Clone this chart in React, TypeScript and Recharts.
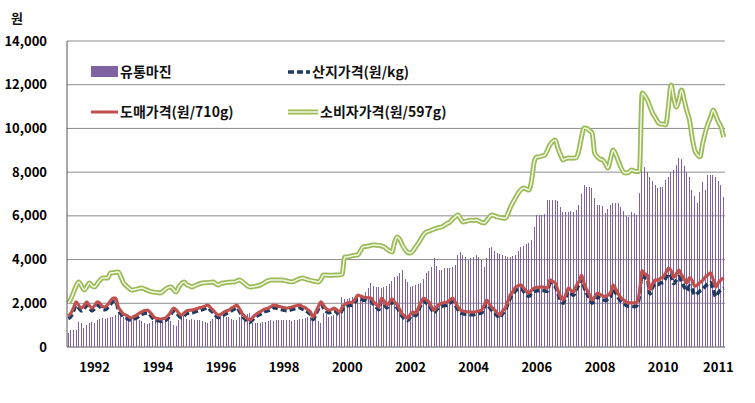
import React from "react";
import { ComposedChart, Bar, Line, XAxis, YAxis, CartesianGrid } from "recharts";

// monthly, 1991-03 .. 2011-12
const START_YEAR = 1991;
const START_MONTH = 3;

// 유통마진
const margin = [
  640, 760, 780, 800, 1140, 1100, 870, 1000, 1100, 1140,
  1100, 1235, 1280, 1330, 1300, 1340, 1370, 1370, 1450, 1600, 1550, 1370,
  1470, 1440, 1390, 1340, 1300, 1250, 1180, 1100, 1050, 1080, 1190, 1235,
  1290, 1290, 1300, 1350, 1300, 1200, 1000, 960, 1250, 1460, 1400, 1300,
  1240, 1300, 1250, 1230, 1235, 1200, 1150, 1100, 1200, 1280, 1330, 1330,
  1400, 1400, 1380, 1370, 1300, 1240, 1220, 1350, 1450, 1500, 1500, 1550,
  1100, 1080, 1100, 1120, 1140, 1160, 1200, 1235, 1200, 1220, 1235, 1250,
  1235, 1240, 1220, 1200, 1235, 1250, 1280, 1300, 1320, 1350, 1370, 1460,
  1460, 1200, 1100, 1550, 1500, 1370, 1400, 1450, 1500, 1600, 2290, 2200,
  2200, 2250, 2300, 2250, 2300, 2350, 2400, 2500, 2700, 2930, 2800, 2750,
  2750, 2700, 2750, 2800, 2900, 3000, 3200, 3250, 3400, 3520, 3100, 2970,
  2750, 2800, 2850, 2900, 2930, 3100, 3390, 3500, 3660, 4070, 3700, 3520,
  3520, 3600, 3610, 3610, 3680, 3750, 4210, 4350, 4210, 4100, 3980, 4050,
  4100, 4210, 4120, 3980, 3660, 4070, 4530, 4580, 4400, 4300, 4250, 4200,
  4150, 4100, 4120, 4150, 4210, 4400, 4580, 4600, 4700, 4760, 4900, 5500,
  6040, 6040, 6050, 6100, 6730, 6730, 6730, 6730, 6700, 6400, 6180, 6180,
  6180, 6200, 6180, 6270, 6500, 7000, 7410, 7320, 7300, 7270, 6800, 6500,
  6500, 6450, 6130, 6300, 6500, 6590, 6600, 6590, 6400, 6200, 6000, 5950,
  6180, 6150, 6040, 7050, 8240, 8240, 8010, 7800, 7600, 7410, 7270, 7300,
  7300, 7640, 7800, 8010, 8100, 8330, 8650, 8600, 8300, 8000, 7780, 7200,
  6900, 6590, 7090, 7550, 7180, 7870, 7870, 7870, 7800, 7600, 7410, 6860,
];

// 산지가격(원/kg)
const farm = [
  1300, 1400, 1650, 1900, 1780, 1650, 1750, 1900, 1780, 1650,
  1750, 1900, 1850, 1720, 1700, 1800, 1950, 2080, 2100, 1700, 1520, 1380,
  1330, 1260, 1220, 1280, 1340, 1420, 1500, 1540, 1560, 1480, 1330, 1230,
  1200, 1180, 1200, 1220, 1330, 1500, 1650, 1580, 1430, 1340, 1420, 1530,
  1560, 1570, 1600, 1640, 1680, 1710, 1760, 1800, 1680, 1570, 1430, 1340,
  1380, 1460, 1530, 1570, 1660, 1730, 1800, 1630, 1430, 1290, 1190, 1130,
  1240, 1350, 1440, 1500, 1580, 1630, 1660, 1730, 1800, 1780, 1740, 1710,
  1680, 1660, 1680, 1710, 1750, 1780, 1800, 1730, 1680, 1590, 1480, 1260,
  1480, 1730, 1940, 1780, 1630, 1570, 1600, 1660, 1580, 1480, 1680, 1830,
  1880, 1900, 1930, 2060, 2230, 2190, 2150, 2130, 2110, 2100, 1930, 1820,
  1700, 2100, 1960, 1790, 1910, 2060, 1910, 1790, 1570, 1380, 1270, 1210,
  1380, 1470, 1430, 1670, 1910, 2090, 2010, 1920, 1720, 1560, 1720, 1820,
  1870, 1890, 1920, 2010, 2090, 1910, 1720, 1560, 1520, 1500, 1490, 1470,
  1480, 1500, 1530, 1560, 1770, 2000, 1810, 1670, 1560, 1420, 1330, 1520,
  1650, 1960, 2250, 2400, 2590, 2640, 2680, 2540, 2400, 2320, 2450, 2550,
  2570, 2590, 2600, 2570, 2550, 2900, 2830, 2760, 2440, 2150, 2000, 2250,
  2540, 2440, 2360, 2640, 2830, 3100, 2720, 2450, 2240, 2000, 2150, 2300,
  2230, 2180, 2120, 2200, 2290, 2650, 2460, 2240, 2080, 1980, 1900, 1860,
  1860, 1850, 1890, 2320, 3300, 3170, 3100, 2430, 2720, 2880, 2850, 2930,
  2950, 3150, 3350, 3230, 2900, 3060, 3220, 2980, 2750, 2560, 2800, 2650,
  2380, 2450, 2560, 2640, 2780, 2880, 2950, 2650, 2300, 2500, 2620, 2700,
];

// 도매가격(원/710g)
const wholesale = [
  1420, 1550, 1800, 2060, 1900, 1780, 1900, 2060, 1900, 1780,
  1900, 2060, 2000, 1850, 1830, 1950, 2100, 2240, 2240, 1830, 1650, 1500,
  1460, 1380, 1330, 1400, 1460, 1550, 1620, 1670, 1690, 1600, 1450, 1330,
  1300, 1280, 1300, 1330, 1450, 1620, 1780, 1700, 1550, 1460, 1550, 1650,
  1680, 1690, 1720, 1760, 1800, 1830, 1880, 1920, 1800, 1690, 1550, 1460,
  1500, 1580, 1650, 1690, 1780, 1850, 1920, 1750, 1550, 1400, 1300, 1240,
  1350, 1460, 1550, 1620, 1700, 1750, 1780, 1850, 1920, 1900, 1860, 1830,
  1800, 1780, 1800, 1830, 1870, 1900, 1920, 1850, 1800, 1700, 1600, 1370,
  1600, 1850, 2060, 1900, 1750, 1690, 1720, 1780, 1700, 1600, 1800, 1950,
  2010, 2030, 2060, 2200, 2380, 2330, 2290, 2270, 2250, 2240, 2060, 1950,
  1830, 2240, 2100, 1920, 2050, 2200, 2050, 1920, 1700, 1500, 1400, 1330,
  1500, 1600, 1550, 1800, 2050, 2240, 2150, 2060, 1850, 1690, 1850, 1950,
  2010, 2030, 2060, 2150, 2240, 2050, 1850, 1690, 1650, 1620, 1610, 1600,
  1600, 1620, 1650, 1690, 1900, 2150, 1950, 1800, 1690, 1550, 1460, 1650,
  1780, 2100, 2400, 2550, 2750, 2800, 2840, 2700, 2550, 2470, 2600, 2700,
  2720, 2740, 2750, 2720, 2700, 3070, 3000, 2930, 2600, 2300, 2150, 2400,
  2700, 2600, 2520, 2800, 3000, 3290, 2900, 2610, 2400, 2150, 2300, 2470,
  2400, 2350, 2290, 2380, 2470, 2840, 2650, 2420, 2250, 2150, 2060, 2020,
  2020, 2010, 2050, 2500, 3500, 3350, 3290, 2610, 2900, 3070, 3050, 3150,
  3200, 3400, 3610, 3500, 3180, 3350, 3520, 3300, 3100, 2930, 3180, 3050,
  2780, 2840, 2950, 3050, 3200, 3300, 3390, 3100, 2750, 2950, 3070, 3160,
];

// 소비자가격(원/597g)
const retail = [
  2010, 2200, 2500, 2800, 2970, 2800, 2610, 2750, 2930, 2800,
  2750, 2900, 3050, 3160, 3160, 3160, 3390, 3400, 3420, 3430, 3200, 2930,
  2800, 2700, 2610, 2620, 2650, 2680, 2700, 2650, 2600, 2550, 2520, 2500,
  2490, 2470, 2550, 2650, 2720, 2750, 2620, 2520, 2750, 2900, 2970, 2850,
  2800, 2750, 2800, 2850, 2900, 2930, 2940, 2950, 2960, 2970, 2900, 2840,
  2900, 2930, 2950, 2960, 2970, 2970, 3020, 3070, 3000, 2900, 2800, 2750,
  2760, 2780, 2800, 2840, 2900, 2980, 3040, 3070, 3070, 3070, 3070, 3070,
  3050, 3020, 3000, 2970, 3020, 3080, 3130, 3160, 3120, 3080, 3050, 3020,
  3000, 2970, 3100, 3290, 3290, 3280, 3280, 3290, 3290, 3300, 3320, 4120,
  4120, 4150, 4180, 4200, 4210, 4400, 4580, 4600, 4620, 4650, 4670, 4660,
  4650, 4620, 4580, 4480, 4400, 4350, 4800, 5030, 4900, 4650, 4450, 4320,
  4300, 4400, 4580, 4750, 4950, 5150, 5260, 5300, 5350, 5400, 5440, 5470,
  5500, 5580, 5650, 5720, 5850, 5950, 6040, 5880, 5720, 5750, 5780, 5800,
  5790, 5810, 5760, 5700, 5670, 5800, 5950, 6040, 6000, 5950, 5920, 5900,
  5890, 6100, 6400, 6630, 6850, 7050, 7200, 7270, 7230, 7180, 7600, 8460,
  8690, 8700, 8740, 8780, 9000, 9250, 9400, 9470, 9100, 8800, 8560, 8620,
  8650, 8640, 8650, 8660, 9000, 9600, 10020, 10000, 9900, 9790, 8870, 8700,
  8600, 8560, 8400, 8190, 8600, 9010, 8800, 8500, 8200, 8000, 7960, 8000,
  8100, 8050, 8030, 8050, 11620, 11500, 11300, 11000, 10700, 10500, 10290, 10200,
  10200, 10160, 11000, 11990, 11400, 10980, 11300, 11760, 11300, 10800, 10390, 9600,
  9000, 8800, 8700, 9300, 9790, 10200, 10500, 10840, 10600, 10300, 10070, 9600,
];

const xTicks = ["1992-01", "1994-01", "1996-01", "1998-01", "2000-01", "2002-01", "2004-01", "2006-01", "2008-01", "2010-01", "2011-10"];
const yTicks = [0, 2000, 4000, 6000, 8000, 10000, 12000, 14000];

const months = retail.map((_, i) => {
  const m0 = START_MONTH - 1 + i;
  const y = START_YEAR + Math.floor(m0 / 12);
  return `${y}-${String((m0 % 12) + 1).padStart(2, "0")}`;
});

const data = months.map((month, i) => ({
  month,
  margin: margin[i],
  farm: farm[i],
  wholesale: wholesale[i],
  retail: retail[i],
}));

const PURPLE = "#7f62a1";
const NAVY = "#1f3a60";
const RED = "#c0504d";
const GREEN = "#9bbb59";
const FONT = "'Noto Sans CJK KR', 'Noto Sans', sans-serif";

const legendText = { fontSize: 14, fill: "#111", fontFamily: FONT, fontWeight: 600 } as const;

// thin crisp bars like the Excel original
const ThinBar = (p: any) => (
  <rect x={p.x} y={p.y} width={p.width} height={p.height} fill={PURPLE} shapeRendering="crispEdges" />
);

function LegendBox() {
  return (
    <svg width={755} height={403} style={{ position: "absolute", left: 0, top: 0, pointerEvents: "none" }}>
      <rect x={91} y={66} width={27} height={11} fill={PURPLE} />
      <text x={120} y={77} {...legendText}>유통마진</text>
      <line x1={288} y1={72} x2={310} y2={72} stroke={NAVY} strokeWidth={3.5} strokeDasharray="6 3" />
      <text x={312} y={77} {...legendText}>산지가격(원/kg)</text>
      <line x1={91} y1={112} x2={118} y2={112} stroke={RED} strokeWidth={3} />
      <text x={120} y={117} {...legendText}>도매가격(원/710g)</text>
      <line x1={288} y1={112} x2={318} y2={112} stroke={GREEN} strokeWidth={5} />
      <line x1={288} y1={112} x2={318} y2={112} stroke="#f4f9e6" strokeWidth={1.5} />
      <text x={320} y={117} {...legendText}>소비자가격(원/597g)</text>
      <text x={17} y={23} textAnchor="middle" fontSize={13} fontWeight={700} fontFamily={FONT} fill="#111">원</text>
    </svg>
  );
}

export default function App() {
  return (
    <div style={{ position: "absolute", left: 0, top: 0, width: 755, height: 403, background: "#fff" }}>
      <ComposedChart width={755} height={403} data={data} margin={{ top: 41, right: 30, bottom: 0, left: 0 }} barCategoryGap="25%">
        <CartesianGrid horizontal vertical={false} stroke="#8c8c8c" />
        <XAxis
          dataKey="month"
          ticks={xTicks}
          interval={0}
          tickFormatter={(v: string) => v.slice(0, 4)}
          tickLine={false}
          tickMargin={10}
          height={56}
          axisLine={{ stroke: "#8c8c8c" }}
          tick={{ fill: "#000", fontSize: 13, fontWeight: 700, fontFamily: FONT }}
        />
        <XAxis xAxisId="top" dataKey="month" orientation="top" height={0} tick={false} tickLine={false} axisLine={{ stroke: "#000" }} />
        <YAxis
          domain={[0, 14000]}
          ticks={yTicks}
          width={67}
          tickLine={false}
          tickMargin={14}
          axisLine={{ stroke: "#555" }}
          tickFormatter={(v: number) => v.toLocaleString("en-US")}
          tick={{ fill: "#000", fontSize: 13, fontWeight: 700, fontFamily: FONT }}
        />
        <YAxis yAxisId="right" orientation="right" width={0} domain={[0, 14000]} tick={false} tickLine={false} axisLine={{ stroke: "#000" }} />
        <Bar dataKey="margin" fill={PURPLE} shape={ThinBar} isAnimationActive={false} />
        <Line type="monotone" dataKey="farm" stroke={NAVY} strokeWidth={3.5} strokeDasharray="6 3" dot={false} isAnimationActive={false} />
        <Line type="monotone" dataKey="wholesale" stroke={RED} strokeWidth={3.2} dot={false} isAnimationActive={false} />
        <Line type="monotone" dataKey="retail" stroke={GREEN} strokeWidth={5} dot={false} isAnimationActive={false} />
        <Line type="monotone" dataKey="retail" stroke="#f4f9e6" strokeWidth={1.5} dot={false} isAnimationActive={false} />
      </ComposedChart>
      <LegendBox />
    </div>
  );
}
